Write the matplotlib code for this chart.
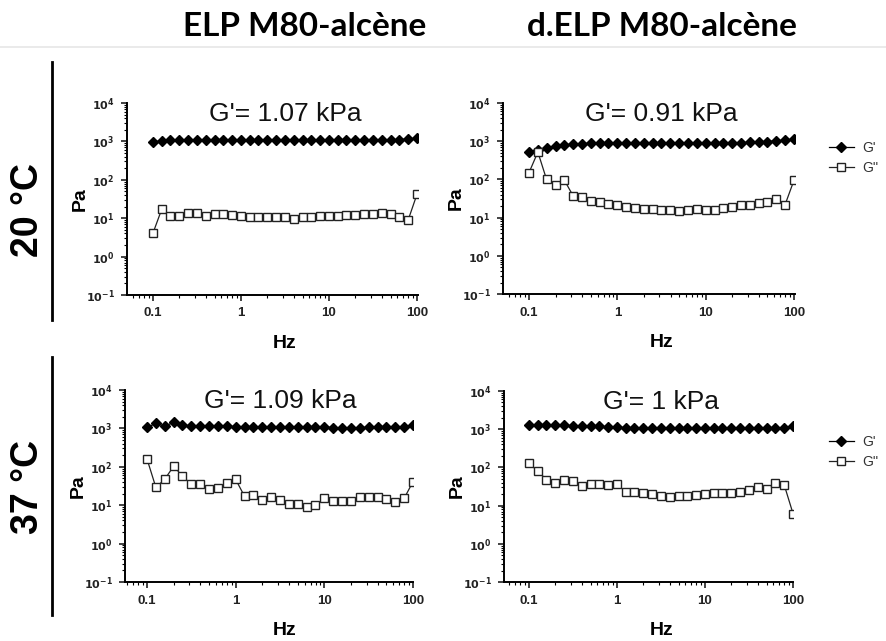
import matplotlib
matplotlib.use("Agg")
import matplotlib.pyplot as plt
from matplotlib.lines import Line2D

# frequency sweep (Hz), 10 points per decade
freq = [0.1, 0.126, 0.158, 0.2, 0.251, 0.316, 0.398, 0.501, 0.631, 0.794,
        1.0, 1.26, 1.58, 2.0, 2.51, 3.16, 3.98, 5.01, 6.31, 7.94,
        10.0, 12.6, 15.8, 20.0, 25.1, 31.6, 39.8, 50.1, 63.1, 79.4, 100.0]

col_titles = ["ELP M80-alcène", "d.ELP M80-alcène"]
row_titles = ["20 °C", "37 °C"]
panel_titles = ["G'= 1.07 kPa", "G'= 0.91 kPa", "G'= 1.09 kPa", "G'= 1 kPa"]

# ELP M80-alcene, 20 C
g1_store = [950, 1050, 1060, 1070, 1070, 1070, 1070, 1070, 1070, 1070,
            1070, 1070, 1070, 1070, 1070, 1070, 1070, 1070, 1070, 1070,
            1080, 1080, 1080, 1080, 1090, 1090, 1100, 1100, 1120, 1150, 1220]
g1_loss = [4.1, 17.4, 11.5, 11.5, 14, 13.5, 11.5, 12.7, 13, 12,
           11.5, 10.6, 11, 11, 11, 10.6, 9.6, 11, 11, 11.5,
           11.5, 11.5, 12, 12, 12.5, 12.5, 13.5, 12.5, 10.5, 9, 42]

# d.ELP M80-alcene, 20 C
g2_store = [530, 600, 670, 740, 800, 840, 870, 880, 890, 890,
            900, 900, 900, 900, 900, 900, 900, 900, 910, 910,
            910, 920, 920, 920, 920, 930, 940, 980, 1020, 1060, 1130]
g2_loss = [150, 520, 100, 71, 96, 37, 34, 28, 25, 22.6,
           21, 19, 18, 17, 17, 16, 16, 15, 16, 17,
           16, 16, 18, 18.5, 21, 22, 24, 26, 30, 22, 95]

# ELP M80-alcene, 37 C
g3_store = [1060, 1350, 1150, 1430, 1200, 1170, 1170, 1170, 1170, 1150,
            1100, 1100, 1100, 1100, 1100, 1100, 1100, 1100, 1100, 1100,
            1100, 1040, 1040, 1040, 1040, 1080, 1100, 1100, 1100, 1100, 1220]
g3_loss = [160, 29, 47, 104, 57, 35, 35, 26.5, 27.5, 37,
           47, 17, 18, 13.5, 16, 13.5, 11, 11, 9.2, 10,
           15, 13, 12.7, 12.7, 16, 16, 16.5, 14.5, 12, 15, 41]

# d.ELP M80-alcene, 37 C
g4_store = [1250, 1300, 1300, 1290, 1280, 1220, 1200, 1200, 1180, 1160,
            1120, 1100, 1100, 1080, 1080, 1080, 1080, 1080, 1080, 1080,
            1080, 1080, 1080, 1080, 1080, 1080, 1080, 1080, 1080, 1100, 1200]
g4_loss = [130, 79, 48, 39, 48, 43, 32, 37, 36, 34,
           36, 23, 23, 21, 20, 18, 16.5, 17.5, 18, 19,
           20, 21, 22, 22, 23, 26, 30, 28, 38, 35, 6.2]

stores = [g1_store, g2_store, g3_store, g4_store]
losses = [g1_loss, g2_loss, g3_loss, g4_loss]

W, H = 886, 641
fig = plt.figure(figsize=(W / 100, H / 100), dpi=100)

# panel boxes in pixels: left, top, right, bottom, x of 0.1, x of 100
boxes = [(127, 103, 418, 295, 153, 417),
         (503, 103, 795, 294, 529, 794),
         (125, 390, 413, 582, 147, 413),
         (504, 391, 793, 582, 529, 793)]
legend_top = {1: 138, 3: 432}

arial = ["Liberation Sans", "DejaVu Sans"]

for i, (l, t, r, b, x01, x100) in enumerate(boxes):
    ax = fig.add_axes([l / W, 1 - b / H, (r - l) / W, (b - t) / H])
    dec = (x100 - x01) / 3.0
    xlo = 10 ** (-1 - (x01 - l) / dec)
    xhi = 10 ** (2 + (r - x100) / dec)
    ax.plot(freq, stores[i], "-", color="black", lw=0.9, marker="D", ms=5,
            mfc="black", mec="black", label="G'")
    ax.plot(freq, losses[i], "-", color="#222222", lw=0.9, marker="s", ms=5.5,
            mfc="white", mec="#222222", mew=1.0, label="G''")
    ax.set_xscale("log")
    ax.set_yscale("log")
    ax.set_xlim(xlo, xhi)
    ax.set_ylim(0.1, 1e4)
    ax.set_xticks([0.1, 1, 10, 100])
    ax.set_xticklabels(["0.1", "1", "10", "100"], fontsize=9.5,
                       fontweight="bold", family=arial)
    ax.set_yticks([0.1, 1, 10, 100, 1000, 10000])
    ax.set_yticklabels([r"$\mathbf{10^{-1}}$", r"$\mathbf{10^{0}}$", r"$\mathbf{10^{1}}$",
                        r"$\mathbf{10^{2}}$", r"$\mathbf{10^{3}}$", r"$\mathbf{10^{4}}$"],
                       fontsize=8)
    for s in ["top", "right"]:
        ax.spines[s].set_visible(False)
    for s in ["left", "bottom"]:
        ax.spines[s].set_linewidth(1.4)
    ax.tick_params(which="major", direction="out", length=4, width=1.2,
                   colors="#222222", pad=5)
    ax.tick_params(which="minor", direction="out", length=2.5, width=0.8)
    ax.set_xlabel("Hz", fontsize=14, fontweight="bold", family=arial)
    xc = 285 if i % 2 == 0 else 662
    ax.xaxis.set_label_coords((xc - l) / (r - l), -40 / (b - t))
    ax.set_ylabel("Pa", fontsize=14, fontweight="bold", family=arial)
    ax.yaxis.set_label_coords(-38 / (r - l), 0.5)
    ax.text(3.16, 0.945, panel_titles[i], transform=ax.get_xaxis_transform(),
            ha="center", va="center", fontsize=19, family=arial, color="#111111")
    if i % 2 == 1:
        handles = [Line2D([], [], color="black", lw=0.9, marker="D", ms=5, mfc="black"),
                   Line2D([], [], color="#222222", lw=0.9, marker="s", ms=5.5, mfc="white")]
        ax.legend(handles, ["G'", "G''"], loc="upper left",
                  bbox_to_anchor=(826 / W, 1 - legend_top[i] / H),
                  bbox_transform=fig.transFigure, frameon=False,
                  handlelength=1.8, handletextpad=0.6, labelspacing=0.45,
                  borderaxespad=0, borderpad=0.2,
                  prop={"family": arial, "size": 10}, labelcolor="#333333")

# column titles
lato = ["Lato", "DejaVu Sans"]
fig.text(305 / W, 1 - 26 / H, col_titles[0], ha="center", va="center",
         fontsize=24, fontweight="bold", family=lato)
fig.text(662 / W, 1 - 26 / H, col_titles[1], ha="center", va="center",
         fontsize=24, fontweight="bold", family=lato)

# separator under the titles
fig.add_artist(Line2D([0, 1], [1 - 47 / H, 1 - 47 / H], transform=fig.transFigure,
                      color="#e6e6e6", lw=1.2))

# row labels with vertical bars
fig.text(28 / W, 1 - 210 / H, row_titles[0], rotation=90, ha="center", va="center",
         fontsize=27, fontweight="bold", family=arial)
fig.text(28 / W, 1 - 487 / H, row_titles[1], rotation=90, ha="center", va="center",
         fontsize=27, fontweight="bold", family=arial)
fig.add_artist(Line2D([52 / W, 52 / W], [1 - 62 / H, 1 - 320 / H], transform=fig.transFigure,
                      color="black", lw=2))
fig.add_artist(Line2D([52 / W, 52 / W], [1 - 357 / H, 1 - 615 / H], transform=fig.transFigure,
                      color="black", lw=2))

fig.savefig("out.png", dpi=100)
